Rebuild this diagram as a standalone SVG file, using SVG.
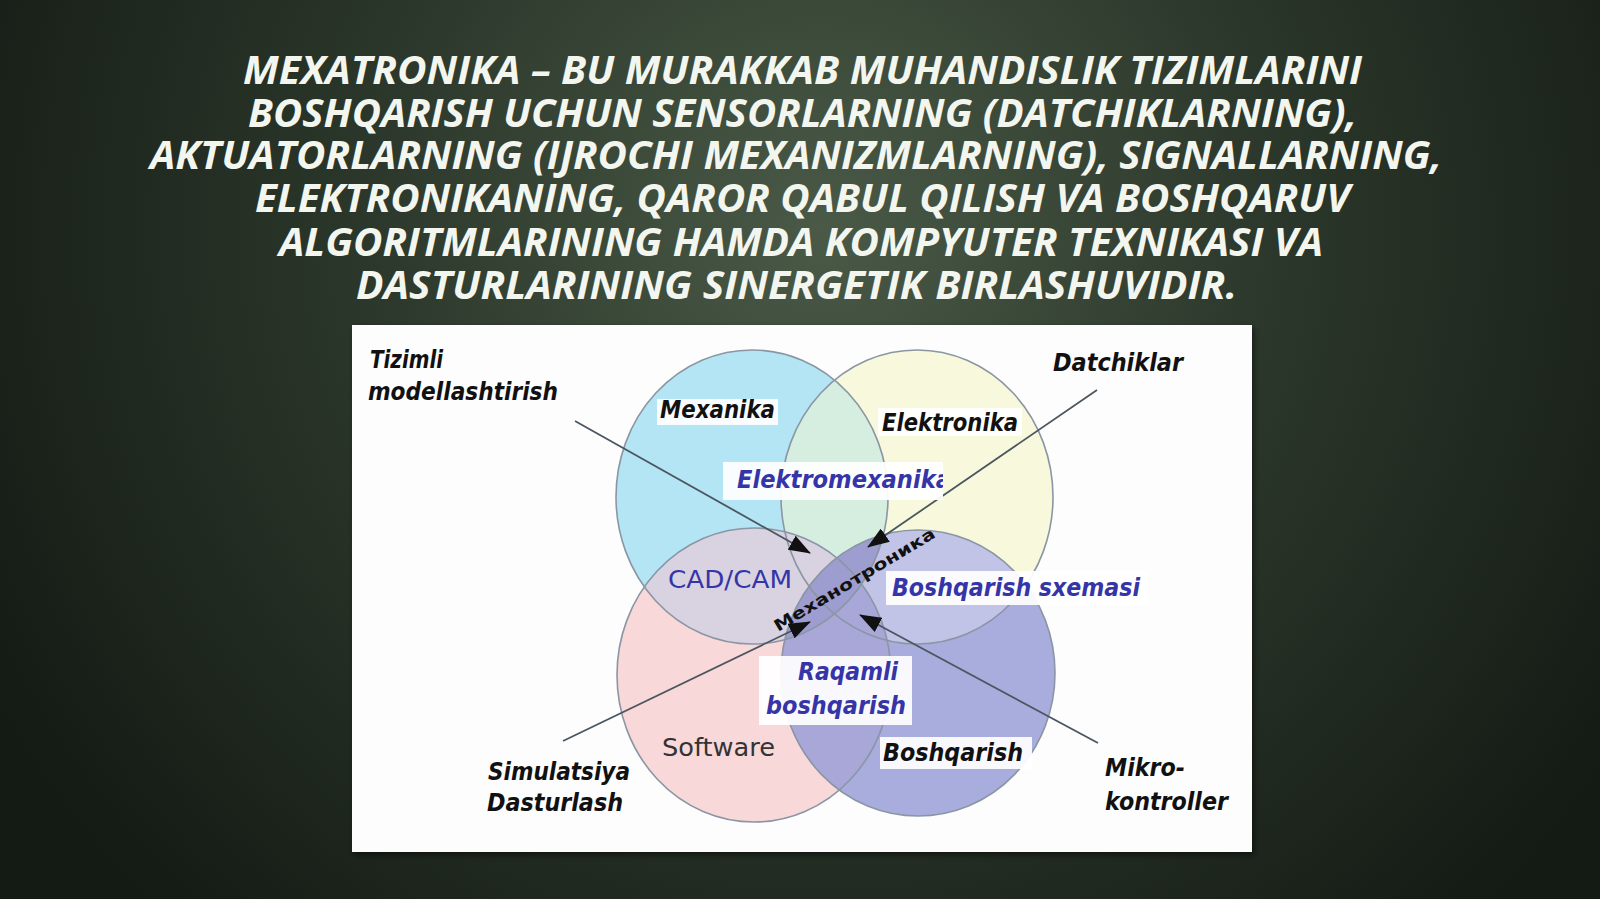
<svg xmlns="http://www.w3.org/2000/svg" width="1600" height="899" viewBox="0 0 1600 899">
<defs>
  <radialGradient id="bg" cx="820" cy="230" r="950" gradientUnits="userSpaceOnUse">
    <stop offset="0" stop-color="#4a5a47"/>
    <stop offset="0.45" stop-color="#2d392c"/>
    <stop offset="1" stop-color="#141a14"/>
  </radialGradient>
  <ellipse id="e1" cx="752" cy="497" rx="136" ry="147"/>
  <ellipse id="e2" cx="917" cy="497" rx="136" ry="147"/>
  <ellipse id="e3" cx="754" cy="675" rx="137" ry="147"/>
  <ellipse id="e4" cx="918" cy="673" rx="137" ry="143"/>
  <clipPath id="c1"><use href="#e1"/></clipPath>
  <clipPath id="c2"><use href="#e2"/></clipPath>
  <clipPath id="c3"><use href="#e3"/></clipPath>
  <clipPath id="c4"><use href="#e4"/></clipPath>
  <clipPath id="cem"><rect x="723" y="462" width="220" height="38"/></clipPath>
  <marker id="ah" markerUnits="userSpaceOnUse" markerWidth="22" markerHeight="16" refX="21" refY="8" orient="auto">
    <path d="M0,0 L22,8 L0,16 z" fill="#111"/>
  </marker>
  <filter id="sh" x="-5%" y="-5%" width="110%" height="110%">
    <feDropShadow dx="2" dy="3" stdDeviation="3" flood-color="#000" flood-opacity="0.5"/>
  </filter>
</defs>
<style>
  .title { font-family: "Open Sans", "Noto Sans", sans-serif; font-weight: bold; font-style: italic; font-size: 40px; fill: #f3f6ee; }
  .lbl { font-family: "DejaVu Sans Condensed", "DejaVu Sans", sans-serif; font-weight: bold; font-style: italic; font-size: 24px; fill: #111; }
  .blue { fill: #3535a8; }
  .reg { font-family: "DejaVu Sans", sans-serif; font-size: 24px; }
  .box { fill: #ffffff; fill-opacity: 0.93; }
  .outline { fill: none; stroke: #8a96a4; stroke-width: 1.6; }
  .conn { stroke: #4b5660; stroke-width: 1.8; fill: none; marker-end: url(#ah); }
</style>

<rect x="0" y="0" width="1600" height="899" fill="url(#bg)"/>

<g id="title">
  <text class="title" x="243" y="84" textLength="1119" lengthAdjust="spacingAndGlyphs">MEXATRONIKA – BU MURAKKAB MUHANDISLIK TIZIMLARINI</text>
  <text class="title" x="248" y="127" textLength="1109" lengthAdjust="spacingAndGlyphs">BOSHQARISH UCHUN SENSORLARNING (DATCHIKLARNING),</text>
  <text class="title" x="150" y="169" textLength="1292" lengthAdjust="spacingAndGlyphs">AKTUATORLARNING (IJROCHI MEXANIZMLARNING), SIGNALLARNING,</text>
  <text class="title" x="255" y="212" textLength="1095" lengthAdjust="spacingAndGlyphs">ELEKTRONIKANING, QAROR QABUL QILISH VA BOSHQARUV</text>
  <text class="title" x="279" y="256" textLength="1044" lengthAdjust="spacingAndGlyphs">ALGORITMLARINING HAMDA KOMPYUTER TEXNIKASI VA</text>
  <text class="title" x="356" y="299" textLength="881" lengthAdjust="spacingAndGlyphs">DASTURLARINING SINERGETIK BIRLASHUVIDIR.</text>
</g>

<rect id="panel" x="352" y="325" width="900" height="527" fill="#fdfdfd" filter="url(#sh)"/>

<g id="venn">
  <use href="#e1" fill="#b3e5f5"/>
  <use href="#e2" fill="#f8f8dc"/>
  <g clip-path="url(#c1)"><use href="#e2" fill="#d5eedf"/></g>
  <use href="#e3" fill="#f8d8d9"/>
  <use href="#e4" fill="#a9addd"/>
  <g clip-path="url(#c3)"><use href="#e1" fill="#d9d2e1"/></g>
  <g clip-path="url(#c4)"><use href="#e2" fill="#c1c4e7"/></g>
  <g clip-path="url(#c4)"><use href="#e3" fill="#a9a7d8"/></g>
  <g clip-path="url(#c4)"><use href="#e1" fill="#9d9dcf"/></g>
  <use href="#e1" class="outline"/>
  <use href="#e2" class="outline"/>
  <use href="#e3" class="outline"/>
  <use href="#e4" class="outline"/>
</g>

<g id="connectors">
  <line class="conn" x1="575" y1="421" x2="810" y2="553"/>
  <line class="conn" x1="1097" y1="390" x2="868" y2="547"/>
  <line class="conn" x1="563" y1="741" x2="810" y2="622"/>
  <line class="conn" x1="1098" y1="743" x2="860" y2="615"/>
</g>

<g id="tizimli">
  <text class="lbl" x="370" y="368" textLength="73" lengthAdjust="spacingAndGlyphs">Tizimli</text>
  <text class="lbl" x="368" y="400" textLength="190" lengthAdjust="spacingAndGlyphs">modellashtirish</text>
</g>
<g id="mexanika">
  <rect class="box" x="657" y="399" width="121" height="26"/>
  <text class="lbl" x="660" y="418" textLength="115" lengthAdjust="spacingAndGlyphs">Mexanika</text>
</g>
<g id="elektronika">
  <rect class="box" x="878" y="408" width="144" height="28"/>
  <text class="lbl" x="882" y="431" textLength="136" lengthAdjust="spacingAndGlyphs">Elektronika</text>
</g>
<g id="datchiklar">
  <text class="lbl" x="1053" y="371" textLength="130" lengthAdjust="spacingAndGlyphs">Datchiklar</text>
</g>
<g id="elektromexanika">
  <rect class="box" x="723" y="462" width="220" height="38"/>
  <text class="lbl blue" x="737" y="488" textLength="214" lengthAdjust="spacingAndGlyphs" clip-path="url(#cem)">Elektromexanika</text>
</g>
<g id="cadcam">
  <text class="reg blue" x="668" y="588" textLength="124" lengthAdjust="spacingAndGlyphs" fill="#3f419f">CAD/CAM</text>
</g>
<g id="mexatronika">
  <text transform="translate(778 632) rotate(-31)" x="0" y="0" font-family="DejaVu Sans, sans-serif" font-weight="bold" font-size="16" fill="#111" textLength="185" lengthAdjust="spacingAndGlyphs">Механотроника</text>
</g>
<g id="boshqarish-sxemasi">
  <rect class="box" x="886" y="571" width="262" height="34"/>
  <text class="lbl blue" x="892" y="596" textLength="248" lengthAdjust="spacingAndGlyphs">Boshqarish sxemasi</text>
</g>
<g id="raqamli">
  <rect class="box" x="759" y="656" width="153" height="69"/>
  <text class="lbl blue" x="798" y="680" textLength="100" lengthAdjust="spacingAndGlyphs">Raqamli</text>
  <text class="lbl blue" x="766" y="714" textLength="140" lengthAdjust="spacingAndGlyphs">boshqarish</text>
</g>
<g id="software">
  <text class="reg" x="662" y="756" textLength="113" lengthAdjust="spacingAndGlyphs" fill="#333">Software</text>
</g>
<g id="simulatsiya">
  <text class="lbl" x="488" y="780" textLength="142" lengthAdjust="spacingAndGlyphs">Simulatsiya</text>
  <text class="lbl" x="487" y="811" textLength="136" lengthAdjust="spacingAndGlyphs">Dasturlash</text>
</g>
<g id="boshqarish">
  <rect class="box" x="880" y="737" width="152" height="32"/>
  <text class="lbl" x="883" y="761" textLength="140" lengthAdjust="spacingAndGlyphs">Boshqarish</text>
</g>
<g id="mikrokontroller">
  <text class="lbl" x="1105" y="776" textLength="80" lengthAdjust="spacingAndGlyphs">Mikro-</text>
  <text class="lbl" x="1105" y="810" textLength="123" lengthAdjust="spacingAndGlyphs">kontroller</text>
</g>
</svg>
